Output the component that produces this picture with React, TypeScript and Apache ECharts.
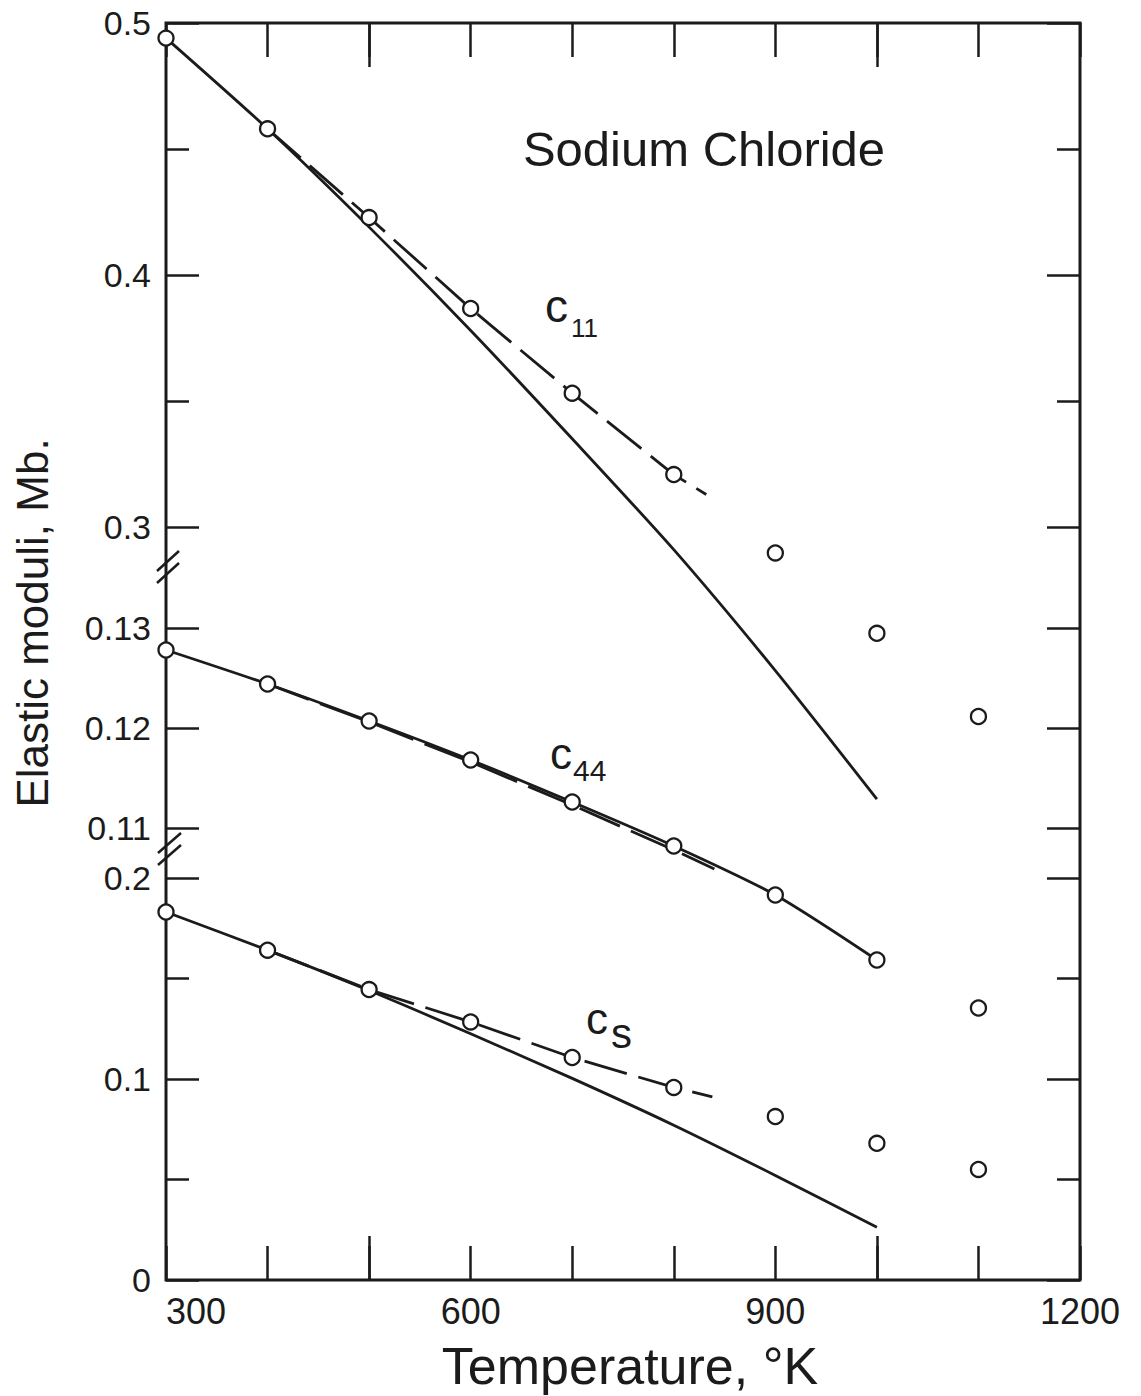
import React, { useEffect, useRef } from 'react';
import * as echarts from 'echarts';

// ---------- data ----------
const lineTemps = [300, 400, 500, 600, 700, 800, 900, 1000];
const pointTemps = [300, 400, 500, 600, 700, 800, 900, 1000, 1100];

// c11 (top section, Mb)
const c11Solid = [0.494, 0.458, 0.419, 0.378, 0.335, 0.291, 0.243, 0.192];
const c11DashTemps = [400, 500, 600, 700, 800, 832];
const c11Dash = [0.458, 0.4228, 0.3867, 0.3531, 0.3208, 0.3129];
const c11Points = [0.494, 0.458, 0.4228, 0.3867, 0.3531, 0.3208, 0.2897, 0.2578, 0.2248];

// c44 (middle section, Mb)
const c44Solid = [0.1278, 0.1244, 0.1207, 0.1168, 0.1126, 0.1082, 0.1033, 0.0968];
const c44DashTemps = [400, 500, 600, 700, 800, 840];
const c44Dash = [0.1244, 0.1206, 0.1166, 0.1123, 0.1078, 0.1059];
const c44Points = [0.1278, 0.1244, 0.1207, 0.1168, 0.1126, 0.1082, 0.1033, 0.0968, 0.092];

// cs (bottom section, Mb)
const csSolid = [0.1831, 0.1641, 0.144, 0.1225, 0.1003, 0.077, 0.052, 0.0262];
const csDashTemps = [400, 500, 600, 700, 800, 838];
const csDash = [0.1641, 0.1445, 0.1284, 0.1107, 0.0958, 0.0911];
const csPoints = [0.1831, 0.1641, 0.1445, 0.1284, 0.1107, 0.0958, 0.0813, 0.068, 0.055];

// tick labels
const xTickLabels = [300, 600, 900, 1200];
const xLongTicks = [500, 1000];
const topSectionLabels = ['0.3', '0.4', '0.5'];
const midSectionLabels = ['0.11', '0.12', '0.13'];
const lowSectionLabels = ['0', '0.1', '0.2'];

// ---------- helpers ----------
const zip = (xs: number[], ys: number[]) => xs.map((x, i) => [x, ys[i]]);
const ink = '#1b1b1b';
const FONT = '"Liberation Sans", Arial, sans-serif';

const pickLabel = (labels: string[]) => (v: number) => {
  const hit = labels.find((l) => Math.abs(parseFloat(l) - v) < 1e-9);
  return hit === undefined ? '' : hit;
};

export default function App() {
  const ref = useRef<HTMLDivElement>(null);

  useEffect(() => {
    if (!ref.current) return;
    const chart = echarts.init(ref.current, undefined, { renderer: 'svg' });

    const tickStyle = { color: ink, width: 2.5 };
    const yLabel = (labels: string[]) => ({
      show: true,
      color: ink,
      fontFamily: FONT,
      fontSize: 34,
      margin: 15,
      formatter: pickLabel(labels),
    });

    const sectionY = (
      gridIndex: number,
      min: number,
      max: number,
      interval: number,
      labels: string[] | null,
      position: 'left' | 'right',
      minor: boolean
    ) => ({
      type: 'value',
      gridIndex,
      position,
      min,
      max,
      interval,
      axisLine: { show: false },
      axisTick: { show: true, inside: true, length: 33, lineStyle: tickStyle },
      minorTick: { show: minor, splitNumber: 2, length: 23, lineStyle: tickStyle },
      axisLabel: labels ? yLabel(labels) : { show: false },
      splitLine: { show: false },
      minorSplitLine: { show: false },
    });

    const solid = (xIdx: number, yIdx: number, data: number[][]) => ({
      type: 'line',
      xAxisIndex: xIdx,
      yAxisIndex: yIdx,
      data,
      symbol: 'none',
      showSymbol: false,
      smooth: 0.25,
      clip: false,
      silent: true,
      z: 3,
      lineStyle: { color: ink, width: 2.8 },
    });
    const dashed = (xIdx: number, yIdx: number, data: number[][]) => ({
      type: 'line',
      xAxisIndex: xIdx,
      yAxisIndex: yIdx,
      data,
      symbol: 'none',
      showSymbol: false,
      clip: false,
      silent: true,
      z: 3,
      lineStyle: { color: ink, width: 2.8, type: [44, 12] },
    });
    const points = (xIdx: number, yIdx: number, data: number[][]) => ({
      type: 'scatter',
      xAxisIndex: xIdx,
      yAxisIndex: yIdx,
      data,
      symbol: 'circle',
      symbolSize: 15,
      clip: false,
      silent: true,
      z: 5,
      itemStyle: { color: '#ffffff', borderColor: ink, borderWidth: 2.3, opacity: 1 },
    });

    const hiddenX = (gridIndex: number) => ({
      type: 'value',
      gridIndex,
      min: 300,
      max: 1200,
      show: false,
    });

    const breakLine = (x1: number, y1: number, x2: number, y2: number) => ({
      type: 'line',
      shape: { x1, y1, x2, y2 },
      style: { stroke: ink, lineWidth: 2.5 },
      z: 10,
    });

    const txt = (
      text: string,
      x: number,
      y: number,
      fontSize: number,
      align: string = 'left',
      rotation = 0
    ) => ({
      type: 'text',
      x,
      y,
      rotation,
      z: 10,
      style: {
        text,
        fill: ink,
        fontFamily: FONT,
        fontSize,
        align,
        verticalAlign: 'middle',
      },
    });

    chart.setOption({
      animation: false,
      backgroundColor: '#ffffff',
      grid: [
        { left: 166, right: 61, top: 23, bottom: 116, show: true, borderColor: ink, borderWidth: 3, backgroundColor: 'transparent' },
        { left: 166, right: 61, top: 23, height: 504 },
        { left: 166, right: 61, top: 628, height: 200 },
        { left: 166, right: 61, top: 878, height: 402 },
      ],
      xAxis: [
        {
          type: 'value',
          gridIndex: 0,
          position: 'bottom',
          min: 300,
          max: 1200,
          interval: 100,
          axisLine: { show: false },
          axisTick: { show: true, inside: true, length: 34, lineStyle: tickStyle },
          axisLabel: {
            show: true,
            color: ink,
            fontFamily: FONT,
            fontSize: 36,
            margin: 13,
            alignMinLabel: 'left',
            formatter: (v: number) => (xTickLabels.includes(v) ? String(v) : ''),
          },
          splitLine: { show: false },
        },
        {
          type: 'value',
          gridIndex: 0,
          position: 'top',
          min: 300,
          max: 1200,
          interval: 100,
          axisLine: { show: false },
          axisTick: { show: true, inside: true, length: 34, lineStyle: tickStyle },
          axisLabel: { show: false },
          splitLine: { show: false },
        },
        {
          type: 'value',
          gridIndex: 1,
          position: 'top',
          min: 300,
          max: 1200,
          axisLine: { show: false },
          axisTick: { show: true, inside: true, length: 44, lineStyle: tickStyle, customValues: xLongTicks },
          axisLabel: { show: false },
          splitLine: { show: false },
        },
        hiddenX(2),
        {
          type: 'value',
          gridIndex: 3,
          position: 'bottom',
          min: 300,
          max: 1200,
          axisLine: { show: false },
          axisTick: { show: true, inside: true, length: 44, lineStyle: tickStyle, customValues: xLongTicks },
          axisLabel: { show: false },
          splitLine: { show: false },
        },
      ],
      yAxis: [
        { type: 'value', gridIndex: 0, min: 0, max: 1, show: false },
        sectionY(1, 0.3, 0.5, 0.1, topSectionLabels, 'left', true),
        sectionY(1, 0.3, 0.5, 0.1, null, 'right', true),
        sectionY(2, 0.11, 0.13, 0.01, midSectionLabels, 'left', false),
        sectionY(2, 0.11, 0.13, 0.01, null, 'right', false),
        sectionY(3, 0, 0.2, 0.1, lowSectionLabels, 'left', true),
        sectionY(3, 0, 0.2, 0.1, null, 'right', true),
      ],
      series: [
        solid(2, 1, zip(lineTemps, c11Solid)),
        dashed(2, 1, zip(c11DashTemps, c11Dash)),
        points(2, 1, zip(pointTemps, c11Points)),
        solid(3, 3, zip(lineTemps, c44Solid)),
        dashed(3, 3, zip(c44DashTemps, c44Dash)),
        points(3, 3, zip(pointTemps, c44Points)),
        solid(4, 5, zip(lineTemps, csSolid)),
        dashed(4, 5, zip(csDashTemps, csDash)),
        points(4, 5, zip(pointTemps, csPoints)),
      ],
      graphic: [
        // axis breaks
        breakLine(157, 571, 179, 551),
        breakLine(157, 583, 179, 563),
        breakLine(158, 853, 181, 833),
        breakLine(158, 865, 181, 845),
        // annotations
        txt('Sodium Chloride', 704, 149, 49, 'center'),
        txt('c', 545, 306, 46),
        txt('11', 571, 328, 26),
        txt('c', 550, 753, 44),
        txt('44', 573, 770, 30),
        txt('c', 586, 1018, 44),
        txt('s', 611, 1033, 42),
        // axis titles
        txt('Temperature, °K', 630, 1366, 52, 'center'),
        txt('Elastic moduli, Mb.', 32, 623, 44, 'center', Math.PI / 2),
      ],
    });

    return () => chart.dispose();
  }, []);

  return (
    <div
      ref={ref}
      style={{ position: 'absolute', left: 0, top: 0, width: 1141, height: 1396, background: '#fff' }}
    />
  );
}
